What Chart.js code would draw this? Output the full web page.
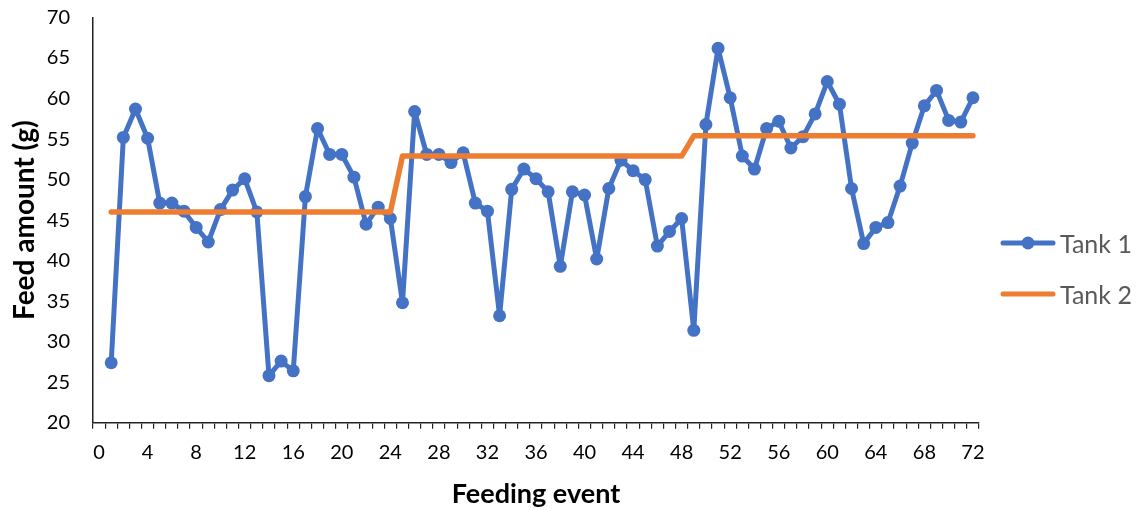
<!DOCTYPE html>
<html>
<head>
<meta charset="utf-8">
<script src="https://cdn.jsdelivr.net/npm/chart.js@4.4.1/dist/chart.umd.min.js"></script>
<style>
  html, body { margin: 0; padding: 0; background: #fff; }
  #wrap { position: relative; width: 1145px; height: 510px; }
  #c { position: absolute; left: 0; top: 0; }
  .leg { position: absolute; left: 1000px; height: 30px; display: flex; align-items: center;
         font-family: Lato, "Open Sans", sans-serif; font-size: 25px; color: #595959; }
  .leg svg { margin-right: 4px; }
</style>
</head>
<body>
<div id="wrap">
  <canvas id="c" width="1145" height="510"></canvas>
  <div class="leg" style="top:228px;">
    <svg width="56" height="16"><line x1="3" y1="8" x2="53" y2="8" stroke="#4472C4" stroke-width="5" stroke-linecap="round"/><circle cx="28" cy="8" r="6.5" fill="#4472C4"/></svg>Tank 1
  </div>
  <div class="leg" style="top:279px;">
    <svg width="56" height="16"><line x1="3" y1="8" x2="53" y2="8" stroke="#ED7D31" stroke-width="5" stroke-linecap="round"/></svg>Tank 2
  </div>
</div>
<script>
// Category axis (feeding events) and tick labels
const categories = [0,1,2,3,4,5,6,7,8,9,10,11,12,13,14,15,16,17,18,19,20,21,22,23,24,25,26,27,28,29,30,31,32,33,34,35,36,37,38,39,40,41,42,43,44,45,46,47,48,49,50,51,52,53,54,55,56,57,58,59,60,61,62,63,64,65,66,67,68,69,70,71,72];
const events = [1,2,3,4,5,6,7,8,9,10,11,12,13,14,15,16,17,18,19,20,21,22,23,24,25,26,27,28,29,30,31,32,33,34,35,36,37,38,39,40,41,42,43,44,45,46,47,48,49,50,51,52,53,54,55,56,57,58,59,60,61,62,63,64,65,66,67,68,69,70,71,72];
const yTicks = [20,25,30,35,40,45,50,55,60,65,70];

const tank1 = [
  27.4, 55.2, 58.7, 55.1, 47.1, 47.1, 46.1, 44.1, 42.3, 46.3, 48.7, 50.1,
  46.0, 25.8, 27.6, 26.4, 47.9, 56.3, 53.1, 53.1, 50.3, 44.5, 46.6, 45.2,
  34.8, 58.4, 53.1, 53.1, 52.1, 53.3, 47.1, 46.1, 33.2, 48.8, 51.3, 50.1,
  48.5, 39.3, 48.5, 48.1, 40.2, 48.9, 52.4, 51.1, 50.0, 41.8, 43.6, 45.2,
  31.4, 56.8, 66.2, 60.1, 52.9, 51.3, 56.3, 57.2, 53.9, 55.3, 58.1, 62.1,
  59.3, 48.9, 42.1, 44.1, 44.7, 49.2, 54.5, 59.1, 61.0, 57.3, 57.1, 60.1
];
const tank2 = [
  46.0, 46.0, 46.0, 46.0, 46.0, 46.0, 46.0, 46.0, 46.0, 46.0, 46.0, 46.0,
  46.0, 46.0, 46.0, 46.0, 46.0, 46.0, 46.0, 46.0, 46.0, 46.0, 46.0, 46.0,
  52.9, 52.9, 52.9, 52.9, 52.9, 52.9, 52.9, 52.9, 52.9, 52.9, 52.9, 52.9,
  52.9, 52.9, 52.9, 52.9, 52.9, 52.9, 52.9, 52.9, 52.9, 52.9, 52.9, 52.9,
  55.4, 55.4, 55.4, 55.4, 55.4, 55.4, 55.4, 55.4, 55.4, 55.4, 55.4, 55.4,
  55.4, 55.4, 55.4, 55.4, 55.4, 55.4, 55.4, 55.4, 55.4, 55.4, 55.4, 55.4
];

const FONT = 'Lato, "Open Sans", sans-serif';

new Chart(document.getElementById('c'), {
  type: 'line',
  data: {
    labels: categories,
    datasets: [
      {
        label: 'Tank 1',
        data: events.map((e, i) => ({ x: e, y: tank1[i] })),
        borderColor: '#4472C4',
        backgroundColor: '#4472C4',
        borderWidth: 5,
        borderJoinStyle: 'round',
        borderCapStyle: 'round',
        pointRadius: 6.5,
        pointBorderWidth: 0,
        pointBackgroundColor: '#4472C4',
        tension: 0,
        order: 1
      },
      {
        label: 'Tank 2',
        data: events.map((e, i) => ({ x: e, y: tank2[i] })),
        borderColor: '#ED7D31',
        backgroundColor: '#ED7D31',
        borderWidth: 5.5,
        borderJoinStyle: 'round',
        borderCapStyle: 'round',
        pointRadius: 0,
        tension: 0,
        order: 0
      }
    ]
  },
  options: {
    responsive: false,
    animation: false,
    layout: { padding: { left: 0, right: 166, top: 17.5, bottom: 0 } },
    plugins: { legend: { display: false }, tooltip: { enabled: false } },
    scales: {
      x: {
        type: 'category',
        offset: true,
        afterFit: (s) => { s.height = 87.3; s.paddingLeft = 0; s.paddingRight = 0; },
        grid: { display: true, offset: true, drawOnChartArea: false, drawTicks: true, tickLength: 6, color: '#222', lineWidth: 1.2 },
        border: { display: true, color: '#222', width: 1.5 },
        ticks: {
          autoSkip: false, maxRotation: 0, minRotation: 0, padding: 12,
          color: '#000', font: { family: FONT, size: 20 },
          callback: function (value, index) {
            const lab = this.getLabelForValue(value);
            return (lab % 4 === 0) ? String(lab) : '';
          }
        },
        title: { display: true, text: 'Feeding event', color: '#000',
                 font: { family: FONT, size: 27, weight: 'bold' }, padding: { top: 0, bottom: 0 } }
      },
      y: {
        min: 20, max: 70,
        afterFit: (s) => { s.width = 93; s.paddingTop = 0; s.paddingBottom = 0; },
        afterBuildTicks: (s) => { s.ticks = yTicks.map(v => ({ value: v })); },
        grid: { display: false, drawTicks: false },
        border: { display: true, color: '#222', width: 1.5 },
        ticks: { padding: 23, color: '#000', font: { family: FONT, size: 20 } },
        title: { display: true, text: 'Feed amount (g)', color: '#000',
                 font: { family: FONT, size: 28, weight: 'bold' }, padding: { top: 8, bottom: 0 } }
      }
    }
  }
});
</script>
</body>
</html>
